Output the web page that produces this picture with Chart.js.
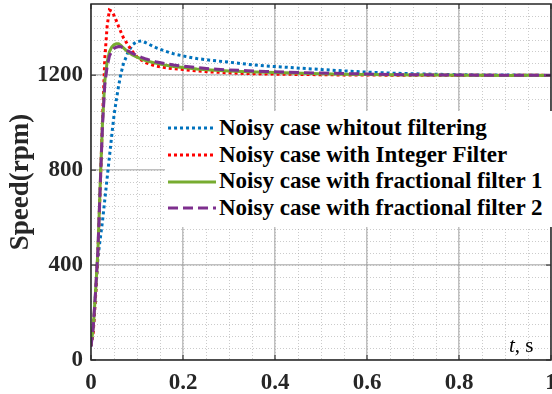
<!DOCTYPE html>
<html>
<head>
<meta charset="utf-8">
<script src="https://cdn.jsdelivr.net/npm/chart.js@4/dist/chart.umd.min.js"></script>
<style>
  html, body { margin: 0; padding: 0; background: #fff; overflow: hidden; }
  #wrap { position: relative; width: 552px; height: 394px; }
  #legend {
    position: absolute; left: 165px; top: 111px; width: 387px; height: 116px;
    background: #fff; padding-top: 4px; box-sizing: border-box;
    font: bold 23px "Liberation Serif", "Times New Roman", serif; color: #000;
  }
  .row { height: 26.7px; line-height: 26.7px; display: flex; align-items: center; white-space: nowrap; }
  .row svg { margin-left: 3px; margin-right: 3px; flex: none; }
  #tlabel {
    position: absolute; left: 509px; top: 333px;
    font: 21px "Liberation Serif", "Times New Roman", serif; color: #000;
  }
</style>
</head>
<body>
<div id="wrap">
  <canvas id="speed_chart" width="552" height="394"></canvas>
  <div id="legend"></div>
  <div id="tlabel"><i>t</i>, s</div>
</div>
<script>
// time axis (s), shared by all curves
var times = [0, 0.005, 0.01, 0.015, 0.02, 0.025, 0.03, 0.035, 0.04, 0.045,
             0.05, 0.055, 0.06, 0.065, 0.07, 0.08, 0.09, 0.1, 0.11, 0.12,
             0.14, 0.16, 0.18, 0.2, 0.23, 0.26, 0.3, 0.34, 0.38, 0.42,
             0.46, 0.5, 0.55, 0.6, 0.65, 0.7, 0.75, 0.8, 0.85, 0.9, 0.95, 1.0];

// speed (rpm)
var noFilter = [60, 130, 280, 430, 510, 585, 675, 765, 855, 945,
                1030, 1095, 1155, 1205, 1245, 1295, 1328, 1342, 1344, 1336,
                1317, 1302, 1290, 1281, 1270, 1263, 1255, 1246, 1239, 1234,
                1229, 1224, 1218, 1213, 1209, 1206, 1204, 1202, 1201, 1201, 1200, 1199];
var integerFilter = [60, 120, 270, 450, 720, 1010, 1270, 1405, 1475, 1470,
                     1452, 1430, 1405, 1382, 1360, 1328, 1300, 1277, 1263, 1252,
                     1239, 1232, 1227, 1224, 1218, 1214, 1210, 1207, 1205, 1204,
                     1203, 1202, 1201, 1201, 1200, 1200, 1200, 1199, 1200, 1199, 1200, 1199];
var fracFilter1 = [60, 140, 290, 460, 740, 1000, 1175, 1255, 1298, 1318,
                   1328, 1333, 1333, 1326, 1316, 1298, 1285, 1276, 1268, 1261,
                   1251, 1243, 1237, 1232, 1226, 1222, 1218, 1215, 1212, 1210,
                   1208, 1206, 1204, 1203, 1202, 1201, 1201, 1200, 1200, 1199, 1200, 1199];
var fracFilter2 = [55, 140, 290, 460, 730, 990, 1160, 1235, 1280, 1302,
                   1313, 1318, 1321, 1320, 1315, 1303, 1292, 1283, 1275, 1268,
                   1257, 1249, 1243, 1238, 1232, 1227, 1222, 1219, 1216, 1213,
                   1211, 1209, 1207, 1205, 1203, 1202, 1201, 1201, 1200, 1200, 1200, 1200];

var seriesLabels = ['Noisy case whitout filtering', 'Noisy case with Integer Filter',
                    'Noisy case with fractional filter 1', 'Noisy case with fractional filter 2'];
var xTicks = [0, 0.2, 0.4, 0.6, 0.8, 1];
var yTicks = [0, 400, 800, 1200];

var colours = ['rgb(0,114,189)', 'rgb(255,0,0)', 'rgb(119,172,48)', 'rgb(126,47,142)'];
var dashes = [[3, 3], [3, 3], [], [10, 5]];
var series = [noFilter, integerFilter, fracFilter1, fracFilter2];

function points(values)
{
	return values.map(function (v, i) { return {x: times[i], y: v}; });
}

var datasets = series.map(function (values, i) {
	return {
		label: seriesLabels[i],
		data: points(values),
		borderColor: colours[i],
		borderWidth: 3,
		borderDash: dashes[i],
		pointRadius: 0,
		tension: 0,
		order: 3 - i
	};
});

// minor dotted grid, box and inward ticks (MATLAB look)
var matlabAxes = {
	id: 'matlabAxes',
	beforeDatasetsDraw: function (chart) {
		var ctx = chart.ctx, a = chart.chartArea;
		var xs = chart.scales.x, ys = chart.scales.y;
		ctx.save();
		ctx.strokeStyle = 'rgba(160,160,160,0.55)';
		ctx.lineWidth = 1;
		ctx.setLineDash([1, 2]);
		for (var t = 0.05; t < 1; t += 0.05) {
			var px = Math.round(xs.getPixelForValue(t)) + 0.5;
			ctx.beginPath(); ctx.moveTo(px, a.top); ctx.lineTo(px, a.bottom); ctx.stroke();
		}
		for (var v = 50; v < 1500; v += 50) {
			var py = Math.round(ys.getPixelForValue(v)) + 0.5;
			ctx.beginPath(); ctx.moveTo(a.left, py); ctx.lineTo(a.right, py); ctx.stroke();
		}
		ctx.restore();
	},
	afterDatasetsDraw: function (chart) {
		var ctx = chart.ctx, a = chart.chartArea;
		var xs = chart.scales.x, ys = chart.scales.y;
		ctx.save();
		ctx.strokeStyle = '#262626';
		ctx.lineWidth = 1.5;
		ctx.strokeRect(a.left, a.top, a.right - a.left, a.bottom - a.top);
		ctx.lineWidth = 1;
		xTicks.forEach(function (t) {
			var px = xs.getPixelForValue(t);
			ctx.beginPath();
			ctx.moveTo(px, a.bottom); ctx.lineTo(px, a.bottom - 5);
			ctx.moveTo(px, a.top); ctx.lineTo(px, a.top + 5);
			ctx.stroke();
		});
		yTicks.forEach(function (v) {
			var py = ys.getPixelForValue(v);
			ctx.beginPath();
			ctx.moveTo(a.left, py); ctx.lineTo(a.left + 5, py);
			ctx.moveTo(a.right, py); ctx.lineTo(a.right - 5, py);
			ctx.stroke();
		});
		ctx.restore();
	}
};

var tickFont = { family: '"Liberation Serif", "Times New Roman", serif', size: 23, weight: 'bold' };

new Chart(document.getElementById('speed_chart').getContext('2d'), {
	type: 'line',
	data: { datasets: datasets },
	plugins: [matlabAxes],
	options: {
		responsive: false,
		animation: false,
		layout: { padding: { top: 4, right: 1, left: 0, bottom: 0 } },
		plugins: { legend: { display: false }, tooltip: { enabled: false } },
		scales: {
			x: {
				type: 'linear', min: 0, max: 1,
				afterBuildTicks: function (s) { s.ticks = xTicks.map(function (v) { return {value: v}; }); },
				ticks: { color: '#262626', font: tickFont, padding: 9, maxRotation: 0, autoSkip: false,
					callback: function (v) { return String(v); } },
				grid: { color: 'rgba(150,150,150,0.6)', lineWidth: 1.5, drawTicks: false },
				border: { display: false },
				afterFit: function (s) { s.height = 34; s.paddingLeft = 0; s.paddingRight = 0; }
			},
			y: {
				type: 'linear', min: 0, max: 1500,
				afterBuildTicks: function (s) { s.ticks = yTicks.map(function (v) { return {value: v}; }); },
				ticks: { color: '#262626', font: tickFont, padding: 8, autoSkip: false,
					callback: function (v) { return String(v); } },
				grid: { color: 'rgba(150,150,150,0.6)', lineWidth: 1.5, drawTicks: false },
				border: { display: false },
				title: { display: true, text: 'Speed(rpm)', color: '#262626',
					font: { family: '"Liberation Serif", "Times New Roman", serif', size: 27, weight: 'bold' },
					padding: { top: 5, bottom: 0 } },
				afterFit: function (s) { s.width = 91; s.paddingTop = 0; s.paddingBottom = 0; }
			}
		}
	}
});

// legend inside the axes, as in the figure
var legend = document.getElementById('legend');
seriesLabels.forEach(function (label, i) {
	var row = document.createElement('div');
	row.className = 'row';
	var dash = dashes[i].length ? ' stroke-dasharray="' + dashes[i].join(' ') + '"' : '';
	row.innerHTML = '<svg width="48" height="6"><line x1="0" y1="3" x2="48" y2="3" stroke="' +
		colours[i] + '" stroke-width="3"' + dash + '/></svg><span>' + label + '</span>';
	legend.appendChild(row);
});
</script>
</body>
</html>
